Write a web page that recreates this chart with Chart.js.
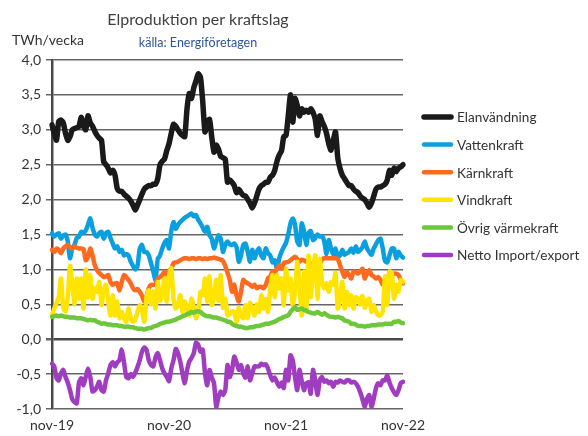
<!DOCTYPE html>
<html>
<head>
<meta charset="utf-8">
<script src="https://cdn.jsdelivr.net/npm/chart.js@4.4.0/dist/chart.umd.min.js"></script>
<style>
  body { margin: 0; background: #fff; }
  #wrap { width: 588px; height: 436px; }
</style>
</head>
<body>
<div id="wrap"><canvas id="chart" width="588" height="436"></canvas></div>
<script>
// weekly values, nov-19 .. nov-22 (TWh/vecka)
var weeks = [];
for (var w = 0; w <= 156; w++) weeks.push('v' + w);
var tickLabels = { 0: 'nov-19', 52: 'nov-20', 104: 'nov-21', 156: 'nov-22' };

var elanvandning = [
  3.07, 2.95, 2.85, 3.12, 3.14, 3.10, 2.95, 2.85, 2.90, 3.00,
  3.02, 3.03, 3.05, 3.18, 3.05, 3.00, 3.20, 3.10, 3.05, 2.98,
  2.92, 2.88, 2.85, 2.54, 2.50, 2.45, 2.38, 2.42, 2.35, 2.16,
  2.12, 2.12, 2.08, 2.05, 2.02, 1.98, 1.92, 1.85, 1.92, 2.00,
  2.08, 2.15, 2.18, 2.20, 2.20, 2.22, 2.22, 2.30, 2.50, 2.55,
  2.58, 2.70, 2.80, 2.95, 3.08, 3.05, 3.00, 2.95, 2.92, 2.90,
  3.30, 3.52, 3.45, 3.60, 3.70, 3.80, 3.75, 3.40, 2.97, 3.10,
  3.15, 2.90, 2.68, 2.78, 2.72, 2.62, 2.60, 2.58, 2.25, 2.28,
  2.25, 2.20, 2.10, 2.15, 2.10, 2.06, 2.05, 2.00, 1.95, 1.88,
  1.95, 2.05, 2.15, 2.20, 2.22, 2.25, 2.25, 2.32, 2.35, 2.42,
  2.55, 2.64, 2.70, 2.90, 2.92, 3.20, 3.50, 3.11, 3.45, 3.35,
  3.20, 3.30, 3.25, 3.28, 3.25, 3.30, 3.25, 3.15, 2.92, 3.20,
  3.12, 3.05, 2.95, 2.80, 2.71, 2.85, 2.97, 2.60, 2.45, 2.35,
  2.30, 2.25, 2.20, 2.20, 2.15, 2.12, 2.10, 2.05, 2.02, 2.00,
  1.95, 1.89, 1.95, 2.05, 2.15, 2.18, 2.18, 2.20, 2.22, 2.28,
  2.42, 2.35, 2.45, 2.40, 2.45, 2.47, 2.50
];

var vattenkraft = [
  1.52, 1.47, 1.50, 1.52, 1.44, 1.48, 1.50, 1.40, 1.16, 1.30,
  1.35, 1.45, 1.47, 1.54, 1.52, 1.56, 1.64, 1.73, 1.60, 1.50,
  1.47, 1.52, 1.54, 1.44, 1.52, 1.54, 1.45, 1.37, 1.30, 1.33,
  1.25, 1.28, 1.20, 1.22, 1.20, 1.11, 1.05, 1.00, 1.05, 1.30,
  1.35, 1.25, 1.25, 1.20, 1.09, 0.97, 0.85, 1.15, 1.20, 1.30,
  1.38, 1.42, 1.30, 1.55, 1.68, 1.58, 1.64, 1.68, 1.71, 1.74,
  1.76, 1.78, 1.80, 1.76, 1.78, 1.71, 1.66, 1.60, 1.54, 1.61,
  1.49, 1.44, 1.30, 1.40, 1.49, 1.44, 1.25, 1.35, 1.40, 1.36,
  1.35, 1.37, 1.32, 1.11, 1.20, 1.35, 1.37, 1.25, 1.11, 1.28,
  1.16, 1.25, 1.30, 1.20, 1.16, 1.30, 1.23, 1.20, 1.10, 1.13,
  1.01, 1.16, 1.25, 1.32, 1.38, 1.50, 1.66, 1.73, 1.64, 1.40,
  1.35, 1.66, 1.55, 1.35, 1.52, 1.55, 1.42, 1.45, 1.50, 1.47,
  1.48, 1.40, 1.22, 1.42, 1.30, 1.21, 1.30, 1.18, 1.20, 1.28,
  1.21, 1.23, 1.25, 1.30, 1.24, 1.33, 1.25, 1.28, 1.32, 1.40,
  1.30, 1.25, 1.21, 1.30, 1.36, 1.42, 1.44, 1.30, 1.12, 1.10,
  1.20, 1.30, 1.30, 1.16, 1.25, 1.20, 1.17
];

var karnkraft = [
  1.28, 1.25, 1.30, 1.28, 1.23, 1.30, 1.33, 1.35, 1.32, 1.30,
  1.33, 1.31, 1.30, 1.30, 1.29, 1.13, 1.18, 1.30, 1.20, 1.06,
  0.99, 0.95, 0.92, 0.89, 0.90, 0.92, 0.82, 0.78, 0.80, 0.80,
  0.70, 0.82, 0.92, 0.89, 0.85, 0.80, 0.73, 0.70, 0.72, 0.68,
  0.62, 0.54, 0.61, 0.73, 0.78, 0.78, 0.78, 0.87, 0.89, 0.92,
  0.97, 0.92, 0.98, 1.01, 1.09, 1.10, 1.11, 1.13, 1.15, 1.16,
  1.16, 1.15, 1.16, 1.16, 1.15, 1.16, 1.16, 1.15, 1.16, 1.15,
  1.16, 1.16, 1.17, 1.16, 1.15, 1.14, 1.12, 1.05, 0.95, 0.85,
  0.68, 0.78, 0.63, 0.54, 0.68, 0.85, 0.82, 0.80, 0.78, 0.75,
  0.78, 0.73, 0.75, 0.75, 0.73, 0.78, 0.87, 0.90, 0.97, 0.95,
  1.01, 1.06, 1.01, 1.09, 1.10, 1.11, 1.13, 1.16, 1.18, 1.15,
  1.11, 1.14, 1.13, 1.11, 1.10, 1.08, 1.07, 1.06, 1.06, 1.08,
  1.14, 1.16, 1.16, 1.16, 1.16, 1.16, 1.16, 1.15, 1.06, 0.97,
  0.89, 0.97, 0.92, 0.87, 0.97, 0.96, 0.94, 0.97, 1.01, 0.87,
  0.94, 0.99, 0.92, 0.90, 0.87, 0.89, 0.85, 0.78, 0.84, 0.78,
  0.97, 0.92, 0.94, 0.94, 0.92, 0.85, 0.80
];

var vindkraft = [
  0.34, 0.44, 0.52, 0.60, 0.87, 0.45, 0.40, 0.60, 1.05, 0.80,
  0.50, 0.87, 0.58, 0.87, 0.44, 1.00, 0.60, 0.92, 0.58, 0.73,
  0.68, 0.82, 0.49, 0.70, 0.78, 0.54, 0.34, 0.63, 0.34, 0.54,
  0.30, 0.39, 0.30, 0.25, 0.44, 0.30, 0.25, 0.28, 0.39, 0.49,
  0.42, 0.25, 0.60, 0.70, 0.50, 0.68, 0.44, 0.82, 0.55, 0.63,
  0.87, 0.54, 0.92, 1.02, 0.58, 0.44, 0.50, 0.63, 0.39, 0.54,
  0.45, 0.34, 0.58, 0.45, 0.30, 0.40, 0.68, 0.63, 0.87, 0.54,
  0.90, 0.49, 0.60, 0.85, 0.55, 0.92, 0.45, 0.58, 0.34, 0.36,
  0.40, 0.39, 0.25, 0.45, 0.34, 0.30, 0.49, 0.30, 0.52, 0.44,
  0.34, 0.50, 0.39, 0.63, 0.44, 0.58, 0.39, 0.72, 0.92, 0.60,
  0.92, 0.73, 0.87, 0.49, 1.01, 0.70, 0.87, 0.49, 0.68, 1.11,
  0.78, 0.34, 0.97, 0.40, 1.20, 0.60, 1.00, 1.20, 0.58, 1.15,
  0.82, 0.73, 0.80, 0.68, 0.82, 0.78, 0.95, 0.44, 0.60, 0.82,
  0.44, 0.68, 0.49, 0.63, 0.44, 0.60, 0.58, 0.50, 0.62, 0.45,
  0.55, 0.58, 0.39, 0.49, 0.40, 0.34, 0.34, 0.40, 0.90, 0.49,
  0.97, 0.95, 0.58, 0.78, 0.68, 0.85, 0.82
];

var ovrigVarmekraft = [
  0.32, 0.33, 0.34, 0.33, 0.34, 0.33, 0.32, 0.32, 0.31, 0.31,
  0.31, 0.30, 0.30, 0.30, 0.29, 0.28, 0.27, 0.28, 0.27, 0.27,
  0.25, 0.24, 0.22, 0.23, 0.22, 0.21, 0.21, 0.20, 0.20, 0.20,
  0.19, 0.19, 0.18, 0.18, 0.18, 0.17, 0.17, 0.16, 0.15, 0.15,
  0.15, 0.14, 0.15, 0.16, 0.16, 0.18, 0.19, 0.20, 0.22, 0.23,
  0.24, 0.25, 0.25, 0.26, 0.27, 0.28, 0.30, 0.31, 0.33, 0.34,
  0.36, 0.37, 0.39, 0.38, 0.40, 0.40, 0.39, 0.36, 0.34, 0.33,
  0.33, 0.32, 0.31, 0.31, 0.30, 0.29, 0.28, 0.27, 0.25, 0.25,
  0.22, 0.20, 0.19, 0.18, 0.18, 0.17, 0.16, 0.16, 0.17, 0.17,
  0.18, 0.19, 0.19, 0.20, 0.21, 0.22, 0.22, 0.23, 0.24, 0.25,
  0.27, 0.29, 0.30, 0.32, 0.33, 0.34, 0.39, 0.43, 0.46, 0.42,
  0.43, 0.44, 0.42, 0.41, 0.39, 0.38, 0.37, 0.37, 0.39, 0.37,
  0.35, 0.37, 0.35, 0.33, 0.32, 0.32, 0.31, 0.32, 0.31, 0.30,
  0.27, 0.26, 0.25, 0.22, 0.22, 0.21, 0.19, 0.19, 0.19, 0.18,
  0.19, 0.19, 0.20, 0.20, 0.20, 0.21, 0.21, 0.21, 0.22, 0.22,
  0.22, 0.22, 0.25, 0.25, 0.26, 0.24, 0.23
];

var nettoImportExport = [
  -0.35, -0.39, -0.56, -0.59, -0.49, -0.44, -0.54, -0.62, -0.73, -0.86,
  -0.90, -0.92, -0.62, -0.56, -0.66, -0.54, -0.42, -0.54, -0.75, -0.73,
  -0.68, -0.61, -0.73, -0.75, -0.59, -0.49, -0.37, -0.33, -0.39, -0.33,
  -0.30, -0.15, -0.33, -0.54, -0.56, -0.50, -0.54, -0.48, -0.40, -0.30,
  -0.18, -0.12, -0.15, -0.30, -0.37, -0.39, -0.26, -0.20, -0.30, -0.42,
  -0.49, -0.54, -0.60, -0.42, -0.30, -0.14, -0.20, -0.32, -0.49, -0.63,
  -0.45, -0.32, -0.27, -0.20, -0.05, -0.08, -0.18, -0.15, -0.49, -0.66,
  -0.44, -0.55, -0.63, -0.97, -0.83, -0.75, -0.80, -0.73, -0.37, -0.54,
  -0.44, -0.25, -0.33, -0.44, -0.37, -0.49, -0.55, -0.39, -0.59, -0.49,
  -0.39, -0.39, -0.39, -0.35, -0.37, -0.36, -0.42, -0.52, -0.59, -0.55,
  -0.62, -0.68, -0.62, -0.70, -0.44, -0.59, -0.23, -0.30, -0.54, -0.73,
  -0.44, -0.60, -0.73, -0.63, -0.62, -0.78, -0.44, -0.59, -0.80, -0.59,
  -0.54, -0.61, -0.59, -0.63, -0.61, -0.68, -0.61, -0.62, -0.59, -0.61,
  -0.62, -0.59, -0.59, -0.62, -0.61, -0.63, -0.68, -0.76, -0.86, -0.97,
  -0.85, -0.80, -0.97, -0.85, -0.70, -0.63, -0.66, -0.59, -0.59, -0.52,
  -0.62, -0.70, -0.76, -0.80, -0.73, -0.63, -0.61
];

var FONT = 'Lato, "Open Sans", sans-serif';
Chart.defaults.font.family = FONT;
Chart.defaults.color = '#333';

function serie(label, data, color, width, order) {
    return {
        label: label,
        data: data,
        borderColor: color,
        backgroundColor: color,
        borderWidth: width,
        borderCapStyle: 'round',
        borderJoinStyle: 'round',
        pointRadius: 0,
        tension: 0.2,
        order: order
    };
}

// title, subtitle, unit and legend drawn at fixed spots like the original
var textPlugin = {
    id: 'texts',
    afterDraw: function (chart) {
        var ctx = chart.ctx;
        ctx.save();
        ctx.textBaseline = 'middle';
        ctx.textAlign = 'center';
        ctx.fillStyle = '#404040';
        ctx.font = '16px ' + FONT;
        ctx.fillText('Elproduktion per kraftslag', 198, 20);
        ctx.fillStyle = '#2F5597';
        ctx.font = '12.5px ' + FONT;
        ctx.fillText('källa: Energiföretagen', 198, 43);
        ctx.textAlign = 'left';
        ctx.fillStyle = '#333';
        ctx.font = '14px ' + FONT;
        ctx.fillText('TWh/vecka', 12, 40);

        ctx.font = '13.6px ' + FONT;
        chart.data.datasets.forEach(function (ds, i) {
            var y = 117 + i * 27.6;
            ctx.strokeStyle = ds.borderColor;
            ctx.lineWidth = ds.borderWidth;
            ctx.lineCap = 'round';
            ctx.beginPath();
            ctx.moveTo(424, y);
            ctx.lineTo(451, y);
            ctx.stroke();
            ctx.fillStyle = '#333';
            ctx.fillText(ds.label, 457, y + 1);
        });
        ctx.restore();
    }
};

var ctx = document.getElementById('chart').getContext('2d');
var myChart = new Chart(ctx, {
    type: 'line',
    data: {
        labels: weeks,
        datasets: [
            serie('Elanvändning', elanvandning, '#1a1a1a', 5.5, 6),
            serie('Vattenkraft', vattenkraft, '#0aa0e0', 4.5, 5),
            serie('Kärnkraft', karnkraft, '#ff6a1f', 4.5, 4),
            serie('Vindkraft', vindkraft, '#ffe400', 4.5, 3),
            serie('Övrig värmekraft', ovrigVarmekraft, '#6cc83a', 4.5, 2),
            serie('Netto Import/export', nettoImportExport, '#a03cc0', 4.5, 1)
        ]
    },
    options: {
        responsive: false,
        animation: false,
        layout: { padding: { left: 0, top: 60, right: 185, bottom: 0 } },
        plugins: {
            legend: { display: false },
            tooltip: { enabled: false }
        },
        scales: {
            x: {
                grid: { display: false, drawTicks: false },
                border: { display: false },
                ticks: {
                    autoSkip: false,
                    maxRotation: 0,
                    padding: 8,
                    font: { size: 14 },
                    color: '#333',
                    callback: function (v, i) { return tickLabels[i] || ''; }
                },
                afterFit: function (s) { s.height = 27; }
            },
            y: {
                min: -1,
                max: 4,
                ticks: {
                    stepSize: 0.5,
                    padding: 5,
                    font: { size: 14 },
                    color: '#333',
                    callback: function (v) { return v.toFixed(1).replace('.', ','); }
                },
                grid: {
                    color: function (c) { return c.tick && c.tick.value === 0 ? '#4a4a4a' : '#666666'; },
                    lineWidth: function (c) { return c.tick && c.tick.value === 0 ? 2.5 : 1.5; },
                    tickLength: 6,
                    tickColor: '#666666'
                },
                border: { color: '#4a4a4a', width: 2.5 },
                afterFit: function (s) { s.width = 52; }
            }
        }
    },
    plugins: [textPlugin]
});
</script>
</body>
</html>
